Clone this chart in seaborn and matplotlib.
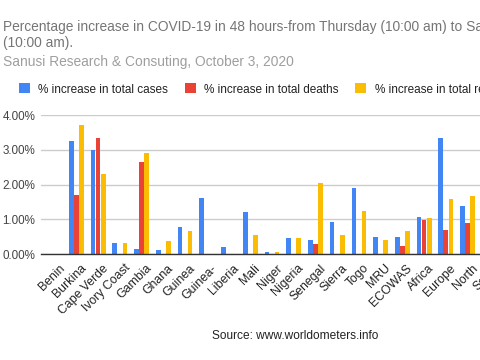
import matplotlib
matplotlib.use("Agg")
import matplotlib.pyplot as plt
from matplotlib.patches import Patch
from matplotlib.transforms import ScaledTranslation
import seaborn as sns
import pandas as pd

categories = ["Benin", "Burkina", "Cape Verde", "Ivory Coast", "Gambia", "Ghana",
              "Guinea", "Guinea-", "Liberia", "Mali", "Niger", "Nigeria", "Senegal",
              "Sierra", "Togo", "MRU", "ECOWAS", "Africa", "Europe", "North", "South"]
cases = [0.00, 3.24, 3.00, 0.32, 0.15, 0.12, 0.77, 1.63, 0.21, 1.21, 0.08, 0.46, 0.42,
         0.93, 1.89, 0.49, 0.51, 1.07, 3.35, 1.38, 1.20]
deaths = [0.00, 1.70, 3.33, 0.00, 2.66, 0.00, 0.00, 0.00, 0.00, 0.00, 0.00, 0.00, 0.30,
          0.00, 0.00, 0.00, 0.24, 0.99, 0.71, 0.90, 0.80]
recoveries = [0.00, 3.72, 2.30, 0.32, 2.92, 0.39, 0.68, 0.00, 0.00, 0.54, 0.07, 0.46, 2.05,
              0.56, 1.24, 0.42, 0.68, 1.05, 1.58, 1.68, 1.50]
series_names = ["% increase in total cases", "% increase in total deaths",
                "% increase in total recoveries"]
yticks = [0, 1, 2, 3, 4]
ytick_labels = ["0.00%", "1.00%", "2.00%", "3.00%", "4.00%"]

rows = []
for name, vals in zip(series_names, [cases, deaths, recoveries]):
    for c, v in zip(categories, vals):
        rows.append({"country": c, "value": v, "series": name})
df = pd.DataFrame(rows)

sns.set_theme(style="white")
plt.rcParams["font.family"] = ["Liberation Sans", "DejaVu Sans"]

fig = plt.figure(figsize=(4.8, 3.6), dpi=100)
px = 21.73  # px per category
left_px = 41
xmin = -0.63
xmax = 20.6
width_px = (xmax - xmin) * px
ax = fig.add_axes([left_px / 480, 1 - 254.3 / 360, width_px / 480, (254.3 - 115) / 360])

palette = ["#4285F4", "#EA4335", "#FBBC04"]
sns.barplot(data=df, x="country", y="value", hue="series", palette=palette,
            width=0.70, gap=0.08, ax=ax, saturation=1, order=categories,
            hue_order=series_names, legend=False, linewidth=0)

ax.set_xlim(xmin, xmax)
ax.set_ylim(0, 4.0)
ax.set_yticks(yticks)
ax.set_yticklabels(ytick_labels, fontsize=8.4, color="#444444")
ax.grid(axis="y", color="#cccccc", linewidth=1)
ax.set_axisbelow(True)
for s in ["top", "right", "left"]:
    ax.spines[s].set_visible(False)
ax.spines["bottom"].set_color("#333333")
ax.spines["bottom"].set_linewidth(1)
ax.tick_params(axis="both", length=0, pad=4)
ax.set_xlabel("")
ax.set_ylabel("")
ax.set_xticks(range(len(categories)))
ax.set_xticklabels(categories, rotation=45, ha="right", rotation_mode="anchor",
                   fontsize=8.8, color="#222222")
ax.tick_params(axis="x", pad=5)
shift = ScaledTranslation(4 / 100, -1 / 100, fig.dpi_scale_trans)
for lab in ax.get_xticklabels():
    lab.set_transform(lab.get_transform() + shift)

handles = [Patch(facecolor=c, edgecolor="none") for c in palette]
fig.legend(handles, series_names, loc="center left", bbox_to_anchor=(19 / 480, 1 - 89.5 / 360),
           ncol=3, frameon=False, fontsize=8.5, handlelength=0.93, handleheight=0.93,
           handletextpad=0.7, columnspacing=1.42, borderpad=0, borderaxespad=0,
           labelcolor="#222222")

fig.text(3 / 480, 1 - 31 / 360,
         "Percentage increase in COVID-19 in 48 hours-from Thursday (10:00 am) to Saturday",
         fontsize=9.9, color="#757575", va="baseline", ha="left")
fig.text(3 / 480, 1 - 47.5 / 360, "(10:00 am).", fontsize=9.9, color="#757575",
         va="baseline", ha="left")
fig.text(3 / 480, 1 - 66 / 360, "Sanusi Research & Consuting, October 3, 2020",
         fontsize=9.9, color="#9e9e9e", va="baseline", ha="left")
fig.text(295 / 480, 1 - 339 / 360, "Source: www.worldometers.info", fontsize=8.6,
         color="#222222", va="baseline", ha="center")

fig.savefig("out.png", dpi=100)
